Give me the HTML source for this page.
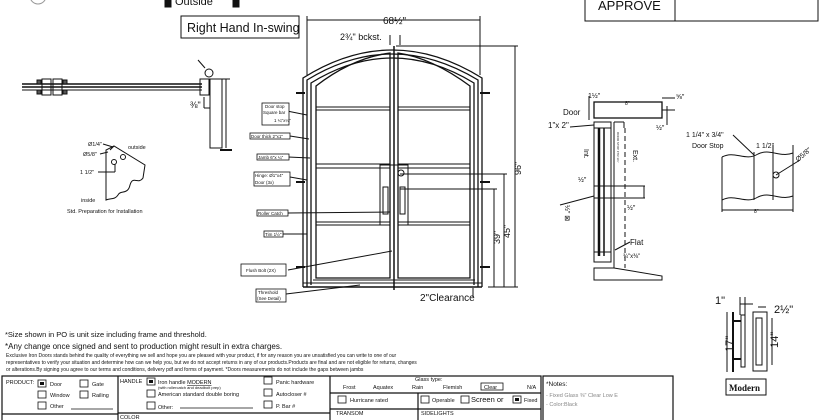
<!DOCTYPE html>
<html><head><meta charset="utf-8"><style>
html,body{margin:0;padding:0;background:#fff;width:826px;height:420px;overflow:hidden}
svg{display:block}
text{font-family:"Liberation Sans",Arial,sans-serif;fill:#111}
</style></head><body>
<svg width="826" height="420" viewBox="0 0 826 420" xmlns="http://www.w3.org/2000/svg">
<g fill="none" stroke="#111" stroke-width="1">
<circle cx="38" cy="-4" r="8" stroke="#999"/>
<rect x="165" y="-2" width="6" height="9" fill="#111"/>
<rect x="233" y="-2" width="6" height="9" fill="#111"/>
<rect x="181" y="16" width="118" height="22"/>
<rect x="585" y="-2" width="233" height="23"/>
<line x1="675" y1="-2" x2="675" y2="21"/>

<line x1="22" y1="84" x2="202" y2="84" stroke-width="1.5"/>
<line x1="22" y1="87" x2="202" y2="87" stroke-width="1.5"/>
<line x1="22" y1="90" x2="202" y2="90"/>
<rect x="42" y="79" width="9" height="16"/><rect x="53" y="79" width="9" height="16"/>
<rect x="37" y="80" width="4" height="4" fill="#555"/><rect x="63" y="80" width="4" height="4" fill="#555"/>
<rect x="37" y="90" width="4" height="4" fill="#555"/><rect x="63" y="90" width="4" height="4" fill="#555"/>
<rect x="200" y="79" width="9" height="16"/>
<rect x="210" y="79" width="12" height="69"/>
<line x1="226" y1="79" x2="226" y2="148"/><line x1="222" y1="79" x2="230" y2="79"/>
<line x1="220" y1="150" x2="232" y2="150" stroke-width="2"/>
<circle cx="209" cy="73" r="4"/>
<line x1="205" y1="68" x2="198" y2="60"/>
<line x1="204" y1="97" x2="204" y2="108"/><line x1="204" y1="108" x2="210" y2="108"/>
<path d="M106 200 L106 150 L114 146 L145 165 L143 178 C138 185,133 175,130 185 C128 195,120 190,118 195 C115 200,110 198,106 200 Z"/>
<line x1="114" y1="146" x2="110" y2="150"/>
<circle cx="123" cy="157" r="2.5"/><circle cx="114" cy="162" r="2.5"/>
<line x1="103" y1="144" x2="113" y2="147"/><line x1="100" y1="154" x2="108" y2="152"/>
<line x1="98" y1="172" x2="115" y2="172"/><line x1="115" y1="164" x2="115" y2="172"/>

<g stroke-width="1.3">
<path d="M303 287 L303 78 Q392 22 482 78 L482 287"/>
<path d="M307 287 L307 80 Q392 28 478 80 L478 287"/>
<path d="M311 285 L311 83 Q392 33 474 83 L474 285"/>
<path d="M316 278 L316 86 Q352 58 390 53 L390 278 Z"/>
<path d="M398 53 Q432 58 470 86 L470 278 L398 278 Z"/>
</g>
<line x1="394" y1="46" x2="394" y2="290" stroke-width="1.5"/>
<line x1="303" y1="287" x2="482" y2="287" stroke-width="1.5"/>
<line x1="303" y1="283" x2="482" y2="283"/>
<line x1="313" y1="280" x2="475" y2="280"/>
<rect x="316" y="107" width="74" height="3"/><rect x="398" y="107" width="72" height="3"/>
<rect x="316" y="164" width="74" height="4"/><rect x="398" y="164" width="72" height="4"/>
<rect x="316" y="222" width="74" height="3"/><rect x="398" y="222" width="72" height="3"/>
<path d="M380 225 L380 165 L394 165"/><path d="M408 225 L408 165 L394 165"/>
<rect x="383" y="187" width="5" height="27"/><rect x="400" y="187" width="5" height="27"/>
<circle cx="401" cy="173" r="3"/>
<g stroke-width="2"><line x1="296" y1="93" x2="305" y2="93"/><line x1="296" y1="182" x2="305" y2="182"/><line x1="296" y1="267" x2="305" y2="267"/>
<line x1="480" y1="93" x2="490" y2="93"/><line x1="480" y1="182" x2="490" y2="182"/><line x1="480" y1="267" x2="490" y2="267"/></g>
<line x1="307" y1="20" x2="480" y2="20"/><line x1="307" y1="16" x2="307" y2="75"/><line x1="480" y1="16" x2="480" y2="75"/>
<line x1="390" y1="35" x2="390" y2="45"/><line x1="400" y1="35" x2="400" y2="45"/>
<line x1="396" y1="46" x2="518" y2="46"/>
<line x1="515" y1="46" x2="515" y2="287"/><line x1="488" y1="287" x2="518" y2="287"/>
<line x1="504" y1="174" x2="504" y2="287"/><line x1="400" y1="174" x2="507" y2="174"/>
<line x1="494" y1="189" x2="494" y2="287"/><line x1="400" y1="189" x2="497" y2="189"/>
<line x1="473" y1="297" x2="473" y2="288"/>
<line x1="262" y1="106" x2="307" y2="115"/><line x1="290" y1="136" x2="309" y2="139"/>
<line x1="288" y1="157" x2="310" y2="158"/><line x1="290" y1="177" x2="307" y2="180"/>
<line x1="288" y1="213" x2="390" y2="212"/><line x1="283" y1="234" x2="307" y2="234"/>
<line x1="288" y1="270" x2="392" y2="251"/><line x1="286" y1="294" x2="360" y2="285"/>
</g>
<g fill="#fff" stroke="#111" stroke-width="0.8">
<rect x="262" y="103" width="27" height="22"/><rect x="250" y="133" width="40" height="6"/>
<rect x="257" y="154" width="32" height="6"/><rect x="254" y="172" width="36" height="14"/>
<rect x="257" y="210" width="31" height="6"/><rect x="264" y="231" width="19" height="6"/>
<rect x="241" y="264" width="45" height="12"/><rect x="256" y="289" width="30" height="13"/>
</g>
<g font-size="4.5">
<text x="265" y="108">Door stop</text><text x="263" y="114">Square bar</text><text x="274" y="122">1 ¼"x¼"</text>
<text x="251" y="138">Door thick 2"x1"</text><text x="258" y="159">Jamb 6"x ¼"</text>
<text x="255" y="177">Hinge: Ø1"x4"</text><text x="255" y="184">Door (3x)</text>
<text x="258" y="215">Roller Catch</text><text x="265" y="236">Tim 1½"</text>
<text x="246" y="272">Flush Bolt (2X)</text><text x="258" y="294">Threshold</text><text x="257" y="300">(See Detail)</text>
</g>
<text x="175" y="5" font-size="11">Outside</text>
<text x="187" y="32" font-size="12.5">Right Hand In-swing</text>
<text x="598" y="10" font-size="13">APPROVE</text>
<text x="383" y="24" font-size="10">68½"</text>
<text x="340" y="40" font-size="9">2¾" bckst.</text>
<text x="420" y="301" font-size="10">2"Clearance</text>
<text font-size="9" transform="translate(521,175) rotate(-90)">96"</text>
<text font-size="9" transform="translate(510,238) rotate(-90)">45"</text>
<text font-size="9" transform="translate(500,244) rotate(-90)">39"</text>
<text x="190" y="108" font-size="9">⅜"</text>
<g font-size="5.5"><text x="88" y="146">Ø1/4"</text><text x="83" y="156">Ø5/8"</text><text x="80" y="174">1 1/2"</text>
<text x="128" y="149">outside</text><text x="81" y="202">inside</text><text x="67" y="213">Std. Preparation for Installation</text></g>

<g fill="none" stroke="#111" stroke-width="1">
<rect x="594" y="102" width="68" height="16" stroke-width="1.3"/>
<line x1="589" y1="96" x2="589" y2="120"/><line x1="662" y1="98" x2="675" y2="98"/><line x1="662" y1="110" x2="675" y2="110"/>
<line x1="667" y1="106" x2="667" y2="125"/>
<rect x="594" y="122" width="17" height="140"/>
<line x1="599" y1="128" x2="599" y2="256" stroke-width="2.5"/><line x1="604" y1="128" x2="604" y2="256" stroke-width="1.5"/>
<rect x="594" y="122" width="17" height="6"/><rect x="594" y="252" width="17" height="10"/>
<rect x="594" y="186" width="17" height="12"/>
<line x1="614" y1="122" x2="614" y2="268"/><line x1="614" y1="122" x2="624" y2="122"/><line x1="624" y1="122" x2="624" y2="128"/>
<line x1="625" y1="128" x2="625" y2="268" stroke-dasharray="5,3"/>
<line x1="611" y1="186" x2="645" y2="186"/><line x1="611" y1="198" x2="645" y2="198"/><line x1="644" y1="186" x2="644" y2="198"/>
<path d="M594 268 L611 268 L614 268 L662 276 L662 280 L594 280 Z"/>
<line x1="570" y1="127" x2="594" y2="125"/><line x1="560" y1="205" x2="594" y2="196"/>
<line x1="615" y1="250" x2="630" y2="242"/>
<path d="M722 157 C735 150,745 162,758 154 C770 148,780 158,793 153"/>
<path d="M722 200 C735 193,745 205,758 197 C770 191,780 201,793 196"/>
<line x1="722" y1="157" x2="722" y2="212"/><line x1="793" y1="145" x2="793" y2="212"/>
<line x1="754" y1="152" x2="754" y2="200"/><line x1="773" y1="145" x2="773" y2="200"/>
<line x1="722" y1="210" x2="793" y2="210"/>
<circle cx="776" cy="175" r="3"/><line x1="776" y1="175" x2="800" y2="160"/>
<line x1="733" y1="135" x2="754" y2="155"/>
<line x1="727" y1="312" x2="727" y2="372"/><line x1="733" y1="312" x2="733" y2="372" stroke-width="2"/>
<line x1="733" y1="321" x2="741" y2="321" stroke-width="2"/><line x1="733" y1="359" x2="741" y2="359" stroke-width="2"/>
<rect x="741" y="315" width="4" height="52"/>
<rect x="753" y="312" width="14" height="59"/><rect x="756" y="318" width="6" height="47"/>
<line x1="740" y1="297" x2="740" y2="315"/><line x1="745" y1="297" x2="745" y2="315"/>
<line x1="740" y1="304" x2="753" y2="304"/><line x1="758" y1="307" x2="766" y2="307"/>
<line x1="772" y1="318" x2="772" y2="365"/>
<rect x="726" y="379" width="40" height="16"/>
</g>
<g font-size="7">
<text x="588" y="98">1½"</text><text x="625" y="105" font-size="5">8"</text><text x="676" y="99">⅝"</text><text x="656" y="130">½"</text>
<text x="563" y="115" font-size="8">Door</text><text x="548" y="128" font-size="8">1"x 2"</text>
<text transform="translate(584,149) rotate(90)">Int.</text><text transform="translate(633,150) rotate(90)">Ext.</text>
<text transform="translate(617,132) rotate(90)" font-size="3">DOOR STOP FTR 1¼"</text>
<text x="578" y="182">½"</text><text x="627" y="210">½"</text><text transform="translate(565,205) rotate(90)">½" ⊠</text>
<text x="630" y="245" font-size="8">Flat</text><text x="623" y="258" font-size="6">¾"x⅜"</text>
<text x="686" y="137">1 1/4" x 3/4"</text><text x="692" y="148">Door Stop</text><text x="756" y="148">1 1/2"</text>
<text transform="translate(798,162) rotate(-40)">Ø5/8"</text><text x="754" y="213" font-size="5">8"</text>
<text x="715" y="304" font-size="11">1"</text><text x="774" y="313" font-size="11">2½"</text>
<text transform="translate(733,352) rotate(-90)" font-size="11">17"</text>
<text transform="translate(778,348) rotate(-90)" font-size="11">14"</text>
<text x="729" y="391" font-size="9" font-weight="bold" style="font-family:'Liberation Serif',serif">Modern</text>
</g>

<text x="5" y="337" font-size="7.5">*Size shown in PO is unit size including frame and threshold.</text>
<text x="5" y="349" font-size="8">*Any change once signed and sent to production might result in extra charges.</text>
<g font-size="5"><text x="6" y="357">Exclusive Iron Doors stands behind the quality of everything we sell and hope you are pleased with your product, if for any reason you are unsatisﬁed you can write to one of our</text>
<text x="6" y="364">representatives to verify your situation and determine how can we help you, but we do not accept returns in any of our products.Products are ﬁnal and are not eligible for returns, changes</text>
<text x="6" y="371">or alterations.By signing you agree to our terms and conditions, delivery pdf and forms of payment. *Doors measurements do not include the gaps between jambs</text></g>
<g fill="none" stroke="#111" stroke-width="1.2">
<rect x="2" y="376" width="539" height="50"/><rect x="543" y="376" width="130" height="50"/>
<line x1="118" y1="376" x2="118" y2="420"/><line x1="330" y1="376" x2="330" y2="420"/>
<line x1="2" y1="414" x2="118" y2="414"/><line x1="118" y1="413" x2="330" y2="413"/>
<line x1="330" y1="393" x2="541" y2="393"/><line x1="330" y1="409" x2="541" y2="409"/>
<line x1="418" y1="393" x2="418" y2="420"/>
</g>
<g fill="none" stroke="#111" stroke-width="0.8">
<rect x="38" y="380" width="8" height="7"/><rect x="80" y="380" width="8" height="7"/>
<rect x="38" y="391" width="8" height="7"/><rect x="80" y="391" width="8" height="7"/><rect x="38" y="402" width="8" height="7"/>
<rect x="147" y="378" width="8" height="7"/><rect x="147" y="390" width="8" height="7"/><rect x="147" y="402" width="8" height="7"/>
<rect x="264" y="377" width="8" height="7"/><rect x="264" y="389" width="8" height="7"/><rect x="264" y="401" width="8" height="7"/>
<rect x="338" y="396" width="8" height="7"/><rect x="421" y="396" width="8" height="7"/><rect x="461" y="396" width="8" height="7"/><rect x="513" y="396" width="8" height="7"/>
<rect x="481" y="383" width="22" height="7"/>
<line x1="71" y1="409" x2="113" y2="409"/><line x1="180" y1="408" x2="253" y2="408"/>
</g>
<rect x="40" y="382" width="4" height="3" fill="#111"/><rect x="149" y="380" width="4" height="3" fill="#111"/><rect x="515" y="398" width="4" height="3" fill="#111"/>
<g font-size="5.5">
<text x="6" y="384">PRODUCT:</text><text x="50" y="386">Door</text><text x="92" y="386">Gate</text>
<text x="50" y="397">Window</text><text x="92" y="397">Railing</text><text x="50" y="408">Other</text>
<text x="120" y="383">HANDLE</text><text x="158" y="384">Iron handle <tspan text-decoration="underline">MODERN</tspan></text>
<text x="158" y="389" font-size="4">(with rollercatch and deadbolt prep)</text>
<text x="158" y="396">American standard double boring</text><text x="158" y="409">Other:</text>
<text x="276" y="384">Panic hardware</text><text x="276" y="396">Autocloser #</text><text x="276" y="408">P. Bar #</text>
<text x="120" y="419">COLOR</text>
<text x="415" y="381">Glass type:</text>
<text x="343" y="389">Frost</text><text x="373" y="389">Aquatex</text><text x="412" y="389">Rain</text><text x="443" y="389">Flemish</text><text x="484" y="389">Clear</text><text x="527" y="389">N/A</text>
<text x="350" y="402">Hurricane rated</text><text x="432" y="402">Operable</text><text x="471" y="402" font-size="7.5">Screen or</text><text x="524" y="402">Fixed</text>
<text x="336" y="415">TRANSOM</text><text x="421" y="415">SIDELIGHTS</text>
<text x="546" y="386" font-size="6.5">*Notes:</text>
<text x="546" y="397" style="fill:#888">- Fixed Glass ⅜" Clear  Low E</text>
<text x="546" y="406" style="fill:#888">- Color:Black</text>
</g>
</svg>
</body></html>
